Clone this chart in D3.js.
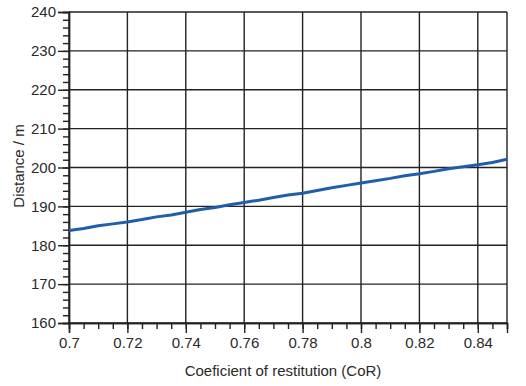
<!DOCTYPE html>
<html><head><meta charset="utf-8">
<script src="https://cdn.jsdelivr.net/npm/d3@7"></script>
<style>
html,body{margin:0;padding:0;background:#fff;}
svg{display:block;font-family:"Liberation Sans",Arial,sans-serif;}
</style></head>
<body>
<script>
const xValues = [0.70,0.705,0.71,0.715,0.72,0.725,0.73,0.735,0.74,0.745,0.75,0.755,0.76,0.765,0.77,0.775,0.78,0.785,0.79,0.795,0.80,0.805,0.81,0.815,0.82,0.825,0.83,0.835,0.84,0.845,0.85];
const distance = [183.8,184.3,185.0,185.5,186.0,186.6,187.3,187.8,188.5,189.2,189.7,190.4,191.0,191.6,192.3,192.9,193.4,194.1,194.8,195.4,196.0,196.6,197.2,197.9,198.4,199.0,199.7,200.2,200.7,201.3,202.1];
const xTicks = [0.70,0.72,0.74,0.76,0.78,0.80,0.82,0.84];
const yTicks = [160,170,180,190,200,210,220,230,240];
const xLabel = "Coeficient of restitution (CoR)";
const yLabel = "Distance / m";

const W = 526, H = 386;
const m = {left:69, right:19, top:12, bottom:63};
const svg = d3.select("body").append("svg").attr("width",W).attr("height",H);
const x = d3.scaleLinear().domain([0.70,0.85]).range([m.left, W-m.right]);
const y = d3.scaleLinear().domain([160,240]).range([H-m.bottom, m.top]);
const ink = "#222";

// grid
const g = svg.append("g");
g.selectAll(".vg").data(xTicks.concat([0.85])).join("line")
  .attr("x1",d=>x(d)).attr("x2",d=>x(d)).attr("y1",y(160)).attr("y2",y(240))
  .attr("stroke",ink).attr("stroke-width",1.4);
g.selectAll(".hg").data(yTicks).join("line")
  .attr("x1",x(0.70)).attr("x2",x(0.85)).attr("y1",d=>y(d)).attr("y2",d=>y(d))
  .attr("stroke",ink).attr("stroke-width",1.4);

// axes with minor ticks
const yMinor = d3.range(160,240.01,2);
const xMinor = d3.range(0,31).map(i=>0.70+i*0.005);
const ya = svg.append("g").attr("transform",`translate(${m.left},0)`);
ya.call(d3.axisLeft(y).tickValues(yMinor).tickSize(6).tickFormat(""));
ya.append("g").call(d3.axisLeft(y).tickValues(yTicks).tickSize(11).tickFormat(d3.format("d")));
const xa = svg.append("g").attr("transform",`translate(0,${H-m.bottom})`);
xa.call(d3.axisBottom(x).tickValues(xMinor).tickSize(6).tickFormat(""));
xa.append("g").call(d3.axisBottom(x).tickValues(xTicks).tickSize(10).tickFormat(d=>String(+d.toFixed(2))));
svg.selectAll(".domain").attr("stroke",ink).attr("stroke-width",1.4);
svg.selectAll(".tick line").attr("stroke",ink).attr("stroke-width",1.4);
svg.selectAll(".tick text").attr("fill","#2a2a2a").style("font-size","15px")
  .style("font-family","'Liberation Sans',Arial,sans-serif");
ya.selectAll(".tick text").attr("x",-13);
xa.selectAll(".tick text").attr("y",14);

// line
svg.append("path").datum(xValues.map((v,i)=>[v,distance[i]]))
  .attr("fill","none").attr("stroke","#1f5eaa").attr("stroke-width",3)
  .attr("stroke-linejoin","round")
  .attr("d",d3.line().x(d=>x(d[0])).y(d=>y(d[1])));

// titles
svg.append("text").attr("x",283).attr("y",376).attr("text-anchor","middle")
  .attr("fill","#2a2a2a").style("font-size","15px").text(xLabel);
svg.append("text").attr("transform","translate(24,166) rotate(-90)").attr("text-anchor","middle")
  .attr("fill","#2a2a2a").style("font-size","15px").text(yLabel);
</script>
</body></html>
